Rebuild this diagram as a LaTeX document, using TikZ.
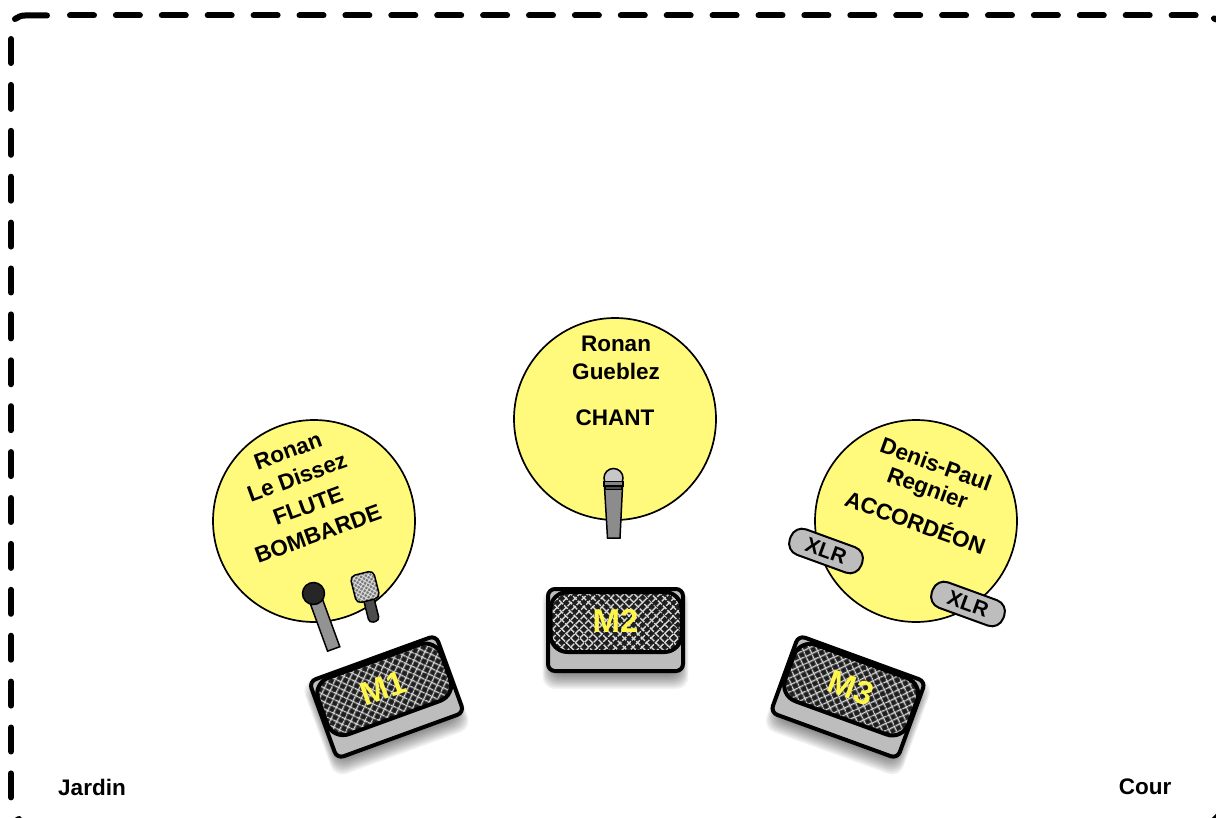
\documentclass[tikz,border=0pt]{standalone}
\usepackage{fontspec}
\setmainfont{Liberation Sans}
\usetikzlibrary{patterns.meta}
\definecolor{disc}{HTML}{FFF97C}
\definecolor{panel}{HTML}{BDBDBD}
\definecolor{grille}{HTML}{1E1E1E}
\definecolor{monlabel}{HTML}{FFF64A}
\tikzset{
  stagefont/.style={font=\fontsize{22.5}{26}\selectfont\bfseries, inner sep=0pt},
  disc/.style={circle, draw=black, line width=1.7pt, fill=disc, minimum size=202pt, inner sep=0pt},
  xlrpill/.style={draw=black, line width=2pt, fill=panel, rounded corners=12pt, minimum width=76pt, minimum height=27pt, inner sep=0pt, font=\fontsize{21}{24}\selectfont\bfseries},
  wedgebox/.style={draw=black, line width=4pt, fill=panel, rounded corners=7pt},
  wedgegrid/.style={draw=black, line width=4pt, rounded corners=17pt},
  wedgelabel/.style={text=monlabel, font=\fontsize{33}{36}\selectfont\bfseries, inner sep=0pt},
  stageline/.style={line width=6pt, line cap=round},
  stagedash/.style={stageline, dash pattern=on 24pt off 21.9pt},
}
% wedge monitor: #1 name, #2 x, #3 y, #4 rotation, #5 label
\newcommand{\wedgemon}[5]{%
  \begin{scope}[shift={(#2,#3+9)}, rotate=#4]
    \foreach \g in {-6,-4.5,...,9}{
      \fill[black, opacity=0.05, rounded corners=12pt]
        ({-67.5-0.6*\g},{-41-\g}) rectangle ({67.5+0.6*\g},{41+\g});
    }
  \end{scope}
  \begin{scope}[shift={(#2,#3)}, rotate=#4]
    \draw[wedgebox] (-67.5,-41) rectangle (67.5,41);
    \fill[grille, rounded corners=17pt] (-65,-38) rectangle (66,22);
    \fill[pattern={Lines[angle=45+#4,distance=6.4pt,line width=1.5pt]},pattern color=white!85!black, rounded corners=17pt] (-65,-38) rectangle (66,22);
    \fill[pattern={Lines[angle=-45+#4,distance=6.4pt,line width=1.5pt]},pattern color=white!85!black, rounded corners=17pt] (-65,-38) rectangle (66,22);
    \draw[wedgegrid] (-65,-38) rectangle (66,22);
    \node[wedgelabel, rotate=#4] (#1) at (0,-9.5) {#5};
  \end{scope}%
}
\begin{document}
\begin{tikzpicture}[x=1pt,y=-1pt]
\useasboundingbox (0,0) rectangle (1216,818);
\fill[white] (0,0) rectangle (1216,818);
% stage outline
\draw[stageline] (15,19) .. controls (18,17) and (21,15.5) .. (25,15.5) -- (47,15.5);
\draw[stagedash] (70,15.5) -- (1200,15.5);
\draw[stagedash] (11,39) -- (11,800);
\draw[stageline] (17,820) -- (19,819);
\draw[stageline] (1214,18.5) -- (1218,20);
\draw[stageline] (1214,820) -- (1218,816);
\draw[stagedash] (1218.8,40) -- (1218.8,800);
% discs
\node[disc] (d1) at (314,521) {};
\node[disc] (d2) at (615,419) {};
\node[disc] (d3) at (916,521) {};
% names
\node[stagefont, rotate=20] (n1) at (288,451) {Ronan};
\node[stagefont, rotate=20] (n2) at (297,477) {Le Dissez};
\node[stagefont, rotate=20] (n3) at (308,506) {FLUTE};
\node[stagefont, rotate=20] (n4) at (318,534) {BOMBARDE};
\node[stagefont] (n5) at (616,344) {Ronan};
\node[stagefont] (n6) at (616,371) {Gueblez};
\node[stagefont] (n7) at (615,418) {CHANT};
\node[stagefont, rotate=-20] (n8) at (936,464) {Denis-Paul};
\node[stagefont, rotate=-20] (n9) at (927,490) {Regnier};
\node[stagefont, rotate=-20] (n10) at (916,521) {ACCORDÉON};
% XLR
\node[xlrpill, rotate=-20] (x1) at (826,551) {XLR};
\node[xlrpill, rotate=-20] (x2) at (968,604) {XLR};
% centre mic
\draw[line width=1.5pt, fill=gray!90] (604.5,487) -- (622.5,487) -- (620,538) -- (607.5,538) -- cycle;
\draw[line width=1.5pt, fill=panel!85!white] (613.5,478) circle (9.5);
\draw[line width=1.2pt, fill=panel!70!black] (604,481.5) rectangle (623,486);
\draw[line width=1.2pt, fill=gray!60!black] (605,486) rectangle (622,489.5);
% left mics
\begin{scope}[shift={(313.5,593.5)}, rotate=20]
  \draw[line width=1.5pt, fill=gray!85] (-6.5,8) rectangle (6.5,59);
  \draw[line width=1.5pt, fill=black!85] (0,0) circle (11);
\end{scope}
\begin{scope}[shift={(365,587)}, rotate=14]
  \draw[line width=1.5pt, fill=black!70, rounded corners=4pt] (-4.5,10) rectangle (6,36);
  \fill[grille!60!white, rounded corners=5pt] (-12,-14) rectangle (12,14);
  \fill[pattern={Lines[angle=59,distance=3.4pt,line width=1pt]},pattern color=white!85!black, rounded corners=5pt] (-12,-14) rectangle (12,14);
  \fill[pattern={Lines[angle=-31,distance=3.4pt,line width=1pt]},pattern color=white!85!black, rounded corners=5pt] (-12,-14) rectangle (12,14);
  \draw[line width=1.5pt, rounded corners=5pt] (-12,-14) rectangle (12,14);
\end{scope}
% monitors
\wedgemon{m1}{386.5}{697}{20}{M1}
\wedgemon{m2}{615.5}{630}{0}{M2}
\wedgemon{m3}{848}{697}{-20}{M3}
% sides
\node[stagefont] (jardin) at (92,787) {Jardin};
\node[stagefont] (cour) at (1145,787) {Cour};
\end{tikzpicture}
\end{document}
